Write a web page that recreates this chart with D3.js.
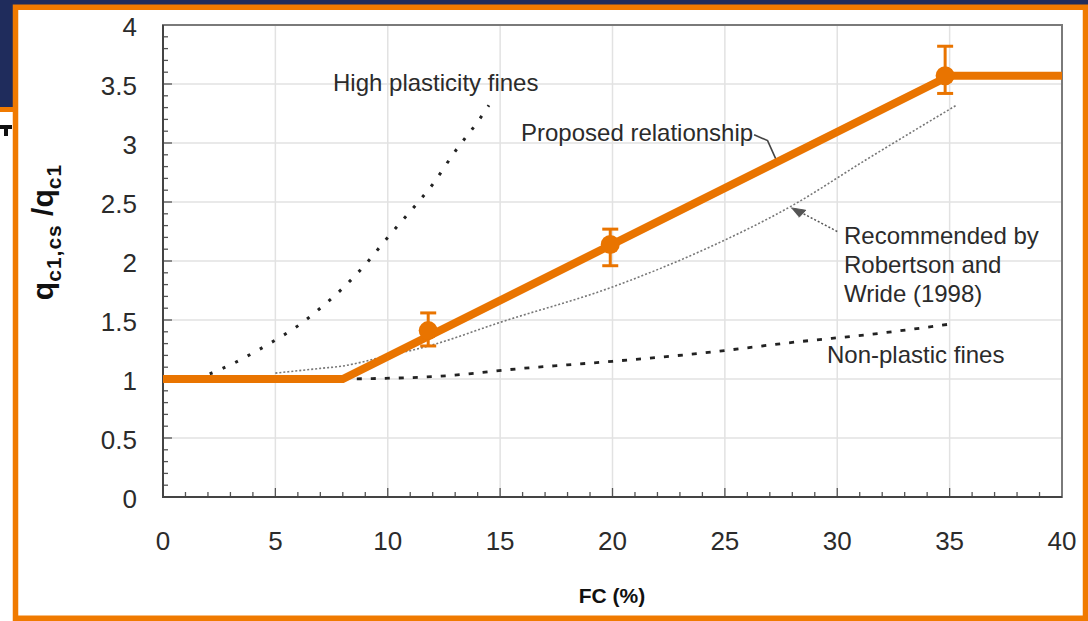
<!DOCTYPE html>
<html>
<head>
<meta charset="utf-8">
<script src="https://cdn.jsdelivr.net/npm/d3@7"></script>
<style>
  html, body { margin: 0; padding: 0; background: #ffffff; }
  svg { display: block; font-family: "Liberation Sans", Arial, sans-serif; }
</style>
</head>
<body>
<svg id="chart" width="1088" height="621"></svg>
<script>
// Fines content (FC, %) against clean-sand equivalent ratio q_c1,cs / q_c1
const fcTicks = [0, 5, 10, 15, 20, 25, 30, 35, 40];
const ratioTicks = [0, 0.5, 1, 1.5, 2, 2.5, 3, 3.5, 4];
const ratioTickLabels = ["0", "0.5", "1", "1.5", "2", "2.5", "3", "3.5", "4"];

// Proposed relationship (bilinear with cap)
const proposedFC = [0, 8, 35, 40];
const proposedRatio = [1, 1, 3.57, 3.57];

// Test results with scatter bands
const testFC = [11.8, 19.9, 34.8];
const testRatio = [1.41, 2.14, 3.57];
const testLow = [1.28, 1.96, 3.42];
const testHigh = [1.56, 2.27, 3.82];

// High plasticity fines
const highFC = [1.5, 3, 4, 5, 6, 7, 8, 9, 10, 11, 12, 13, 14, 14.5];
const highRatio = [1.0, 1.12, 1.22, 1.33, 1.45, 1.6, 1.77, 1.97, 2.2, 2.42, 2.65, 2.93, 3.18, 3.32];

// Robertson and Wride (1998)
const rwFC = [5, 6, 7, 8, 9, 10, 11, 12, 15, 20, 24, 28, 31.3, 35.3];
const rwRatio = [1.05, 1.07, 1.09, 1.11, 1.15, 1.2, 1.24, 1.29, 1.48, 1.78, 2.09, 2.47, 2.86, 3.32];

// Non-plastic fines
const npFC = [8, 12, 16, 20, 24, 28, 32, 35.2];
const npRatio = [1.0, 1.02, 1.09, 1.15, 1.22, 1.31, 1.39, 1.47];

const ORANGE = "#e97400";
const FRAME = "#f07a00";
const NAVY = "#1f2c5c";
const INK = "#2b2b2b";

const svg = d3.select("#chart");

// slide background pieces
svg.append("rect").attr("x", 0).attr("y", 0).attr("width", 1088).attr("height", 621).attr("fill", "#ffffff");
svg.append("rect").attr("x", 0).attr("y", 0).attr("width", 1088).attr("height", 5).attr("fill", NAVY);
svg.append("rect").attr("x", 0).attr("y", 0).attr("width", 14).attr("height", 108).attr("fill", NAVY);
svg.append("rect").attr("x", 0).attr("y", 107).attr("width", 14).attr("height", 5).attr("fill", FRAME);
// sliver of slide heading glyph peeking out on the left
svg.append("path").attr("d", "M0,125H12V129H8V136H4V129H0Z").attr("fill", "#111");

// picture frame
svg.append("rect").attr("x", 15.5).attr("y", 7.25).attr("width", 1070).attr("height", 611)
  .attr("fill", "#ffffff").attr("stroke", FRAME).attr("stroke-width", 5.5);

const x = d3.scaleLinear().domain([0, 40]).range([163, 1062]);
const y = d3.scaleLinear().domain([0, 4]).range([497, 25]);

// grid
const grid = svg.append("g").attr("stroke", "#e2e2e2").attr("stroke-width", 1.5);
grid.selectAll("line.v").data(fcTicks.slice(1, -1)).join("line")
  .attr("x1", d => x(d)).attr("x2", d => x(d)).attr("y1", y(0)).attr("y2", y(4));
grid.selectAll("line.h").data(ratioTicks.slice(1, -1)).join("line").attr("class", "h")
  .attr("x1", x(0)).attr("x2", x(40)).attr("y1", d => y(d)).attr("y2", d => y(d));

// minor ticks (inside)
const minorX = d3.range(1, 40).filter(v => v % 5 !== 0);
const minorY = d3.range(1, 40).filter(v => v % 5 !== 0).map(v => v / 10);
const ticks = svg.append("g").attr("stroke", "#555").attr("stroke-width", 1.3);
ticks.selectAll("line.mx").data(minorX).join("line").attr("class", "mx")
  .attr("x1", d => x(d)).attr("x2", d => x(d)).attr("y1", y(0)).attr("y2", y(0) - 5);
ticks.selectAll("line.Mx").data(fcTicks).join("line").attr("class", "Mx")
  .attr("x1", d => x(d)).attr("x2", d => x(d)).attr("y1", y(0)).attr("y2", y(0) - 9);
ticks.selectAll("line.my").data(minorY).join("line").attr("class", "my")
  .attr("x1", x(0)).attr("x2", x(0) + 5).attr("y1", d => y(d)).attr("y2", d => y(d));
ticks.selectAll("line.My").data(ratioTicks).join("line").attr("class", "My")
  .attr("x1", x(0)).attr("x2", x(0) + 9).attr("y1", d => y(d)).attr("y2", d => y(d));

// axes frame
svg.append("rect").attr("x", x(0)).attr("y", y(4)).attr("width", x(40) - x(0)).attr("height", y(0) - y(4))
  .attr("fill", "none").attr("stroke", "#7a7a7a").attr("stroke-width", 2);
svg.append("path").attr("d", `M${x(0)},${y(4)}V${y(0)}H${x(40)}`)
  .attr("fill", "none").attr("stroke", "#444").attr("stroke-width", 2);

// tick labels
svg.append("g").selectAll("text").data(fcTicks).join("text")
  .attr("x", d => x(d)).attr("y", 550).attr("text-anchor", "middle")
  .attr("font-size", 26).attr("fill", INK).text(d => d);
svg.append("g").selectAll("text").data(ratioTicks).join("text")
  .attr("x", 137).attr("y", d => y(d) + 11).attr("text-anchor", "end")
  .attr("font-size", 26).attr("fill", INK).text((d, i) => ratioTickLabels[i]);

// axis titles
svg.append("text").attr("x", 612).attr("y", 603).attr("text-anchor", "middle")
  .attr("font-size", 21).attr("font-weight", "bold").attr("fill", "#111").text("FC (%)");
const yt = svg.append("text").attr("transform", "translate(53,232) rotate(-90)")
  .attr("text-anchor", "middle").attr("font-weight", "bold").attr("fill", "#111").attr("font-size", 30);
yt.append("tspan").text("q");
yt.append("tspan").attr("font-size", 21).attr("letter-spacing", 1).attr("dy", 8).text("c1,cs");
yt.append("tspan").attr("dy", -8).text(" /q");
yt.append("tspan").attr("font-size", 21).attr("letter-spacing", 1).attr("dy", 8).text("c1");

const line = d3.line().x(d => x(d[0])).y(d => y(d[1]));
const smooth = d3.line().x(d => x(d[0])).y(d => y(d[1])).curve(d3.curveMonotoneX);

// comparison curves
svg.append("path").datum(d3.zip(highFC, highRatio)).attr("d", smooth)
  .attr("fill", "none").attr("stroke", "#222").attr("stroke-width", 3)
  .attr("stroke-dasharray", "3,11");
svg.append("path").datum(d3.zip(rwFC, rwRatio)).attr("d", smooth)
  .attr("fill", "none").attr("stroke", "#777").attr("stroke-width", 1.6)
  .attr("stroke-dasharray", "2,2");
svg.append("path").datum(d3.zip(npFC, npRatio)).attr("d", smooth)
  .attr("fill", "none").attr("stroke", "#222").attr("stroke-width", 2.8)
  .attr("stroke-dasharray", "5,9");

// leader lines
svg.append("path").datum([[30.0, 2.25], [28.3, 2.42]]).attr("d", line)
  .attr("fill", "none").attr("stroke", "#555").attr("stroke-width", 1.5).attr("stroke-dasharray", "2,2");
svg.append("path").datum([[27.95, 2.45], [28.6, 2.43], [28.3, 2.37]]).attr("d", line)
  .attr("fill", "#555").attr("stroke", "#555").attr("stroke-width", 1);
svg.append("path").datum([[26.3, 3.07], [26.9, 3.02], [27.3, 2.85]]).attr("d", line)
  .attr("fill", "none").attr("stroke", "#444").attr("stroke-width", 1.6);

// proposed relationship
svg.append("path").datum(d3.zip(proposedFC, proposedRatio)).attr("d", line)
  .attr("fill", "none").attr("stroke", ORANGE).attr("stroke-width", 8).attr("stroke-linejoin", "miter");

// error bars and markers
const eb = svg.append("g").attr("stroke", ORANGE).attr("stroke-width", 3);
testFC.forEach((fc, i) => {
  eb.append("line").attr("x1", x(fc)).attr("x2", x(fc)).attr("y1", y(testLow[i])).attr("y2", y(testHigh[i]));
  eb.append("line").attr("x1", x(fc) - 8).attr("x2", x(fc) + 8).attr("y1", y(testLow[i])).attr("y2", y(testLow[i]));
  eb.append("line").attr("x1", x(fc) - 8).attr("x2", x(fc) + 8).attr("y1", y(testHigh[i])).attr("y2", y(testHigh[i]));
});
svg.append("g").selectAll("circle").data(d3.zip(testFC, testRatio)).join("circle")
  .attr("cx", d => x(d[0])).attr("cy", d => y(d[1])).attr("r", 9.5).attr("fill", ORANGE);

// annotations
const ann = svg.append("g").attr("font-size", 24).attr("fill", INK);
ann.append("text").attr("x", 333).attr("y", 91).text("High plasticity fines");
ann.append("text").attr("x", 521).attr("y", 141).text("Proposed relationship");
ann.append("text").attr("x", 844).attr("y", 244).text("Recommended by");
ann.append("text").attr("x", 844).attr("y", 273).text("Robertson and");
ann.append("text").attr("x", 844).attr("y", 302).text("Wride (1998)");
ann.append("text").attr("x", 827).attr("y", 363).text("Non-plastic fines");
</script>
</body>
</html>
